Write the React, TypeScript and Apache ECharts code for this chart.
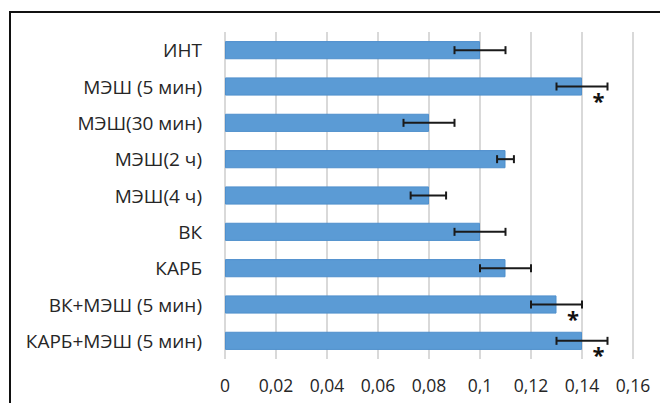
import React, { useEffect, useRef } from "react";
import * as echarts from "echarts";

const categories = [
  "ИНТ",
  "МЭШ (5 мин)",
  "МЭШ(30 мин)",
  "МЭШ(2 ч)",
  "МЭШ(4 ч)",
  "ВК",
  "КАРБ",
  "ВК+МЭШ (5 мин)",
  "КАРБ+МЭШ (5 мин)",
];
const values = [0.1, 0.14, 0.08, 0.11, 0.08, 0.1, 0.11, 0.13, 0.14];
const errLow = [0.09, 0.13, 0.07, 0.1067, 0.0728, 0.09, 0.1, 0.12, 0.13];
const errHigh = [0.11, 0.15, 0.09, 0.1133, 0.0867, 0.11, 0.12, 0.14, 0.15];
const starred = [false, true, false, false, false, false, false, true, true];
const xTicks = { min: 0, max: 0.16, interval: 0.02 };

const FONT = "'Open Sans', 'Noto Sans', sans-serif";

export default function App() {
  const ref = useRef<HTMLDivElement>(null);
  useEffect(() => {
    if (!ref.current) return;
    const chart = echarts.init(ref.current, null, { renderer: "svg" });
    const errData = categories.map((_, i) => [i, errLow[i], errHigh[i]]);
    const starData = categories
      .map((_, i) => [i, errHigh[i]])
      .filter((_, i) => starred[i]);
    chart.setOption({
      animation: false,
      backgroundColor: "#fff",
      grid: { left: 225, right: 27, top: 32, bottom: 44, containLabel: false },
      xAxis: {
        type: "value",
        min: xTicks.min,
        max: xTicks.max,
        interval: xTicks.interval,
        axisLine: { show: false },
        axisTick: { show: false },
        splitLine: { show: true, lineStyle: { color: "#d9d9d9", width: 2 } },
        axisLabel: {
          color: "#262626",
          fontFamily: FONT,
          fontSize: 17.5,
          margin: 17,
          formatter: (v: number) => String(Math.round(v * 100) / 100).replace(".", ","),
        },
      },
      yAxis: {
        type: "category",
        data: categories,
        inverse: true,
        axisLine: { show: false },
        axisTick: { show: false },
        splitLine: { show: false },
        axisLabel: { color: "#262626", fontFamily: FONT, fontSize: 19, margin: 23 },
      },
      series: [
        {
          type: "bar",
          data: values,
          barCategoryGap: "50%",
          itemStyle: { color: "#5b9bd5", borderColor: "#4f8fcc", borderWidth: 1 },
          z: 2,
        },
        {
          type: "custom",
          data: errData,
          z: 3,
          renderItem: (params: any, api: any) => {
            const c = api.value(0);
            const lo = api.coord([api.value(1), c]);
            const hi = api.coord([api.value(2), c]);
            const h = 4;
            const style = { stroke: "#1a1a1a", lineWidth: 2 };
            return {
              type: "group",
              children: [
                { type: "line", shape: { x1: lo[0], y1: lo[1], x2: hi[0], y2: hi[1] }, style },
                { type: "line", shape: { x1: lo[0], y1: lo[1] - h, x2: lo[0], y2: lo[1] + h }, style },
                { type: "line", shape: { x1: hi[0], y1: hi[1] - h, x2: hi[0], y2: hi[1] + h }, style },
              ],
            };
          },
        },
        {
          type: "custom",
          data: starData,
          z: 4,
          renderItem: (params: any, api: any) => {
            const p = api.coord([api.value(1), api.value(0)]);
            return {
              type: "text",
              x: p[0] - 9,
              y: p[1] + 13,
              style: {
                text: "*",
                fill: "#111",
                font: `bold 22px ${FONT}`,
                align: "center",
                verticalAlign: "middle",
              },
            };
          },
        },
      ],
      graphic: [
        { type: "line", shape: { x1: 9, y1: 12, x2: 660, y2: 12 }, style: { stroke: "#111", lineWidth: 2 } },
        { type: "line", shape: { x1: 10, y1: 12, x2: 10, y2: 403 }, style: { stroke: "#111", lineWidth: 2 } },
      ],
    });
    return () => chart.dispose();
  }, []);
  return (
    <div
      ref={ref}
      style={{ position: "fixed", left: 0, top: 0, width: 660, height: 403 }}
    />
  );
}
